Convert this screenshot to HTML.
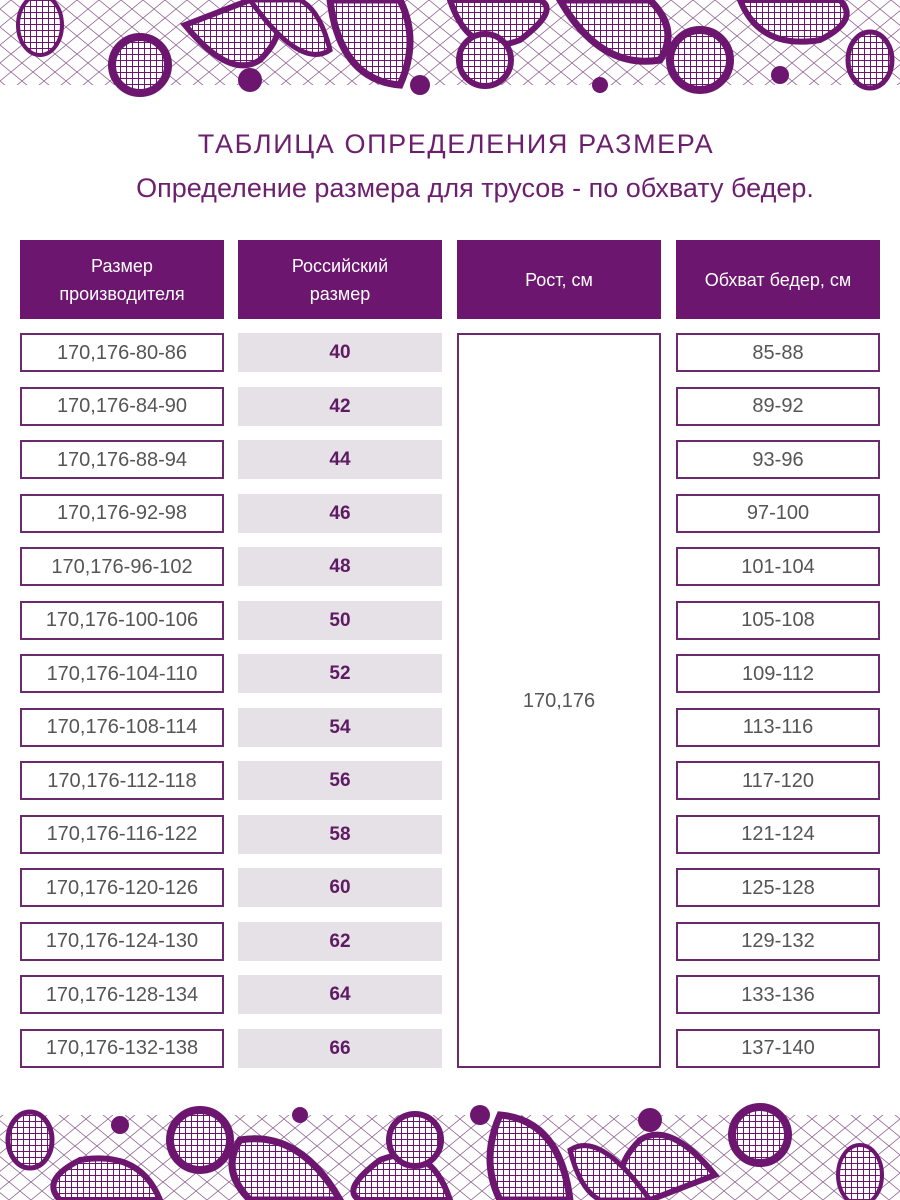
<!DOCTYPE html>
<html><head><meta charset="utf-8"><style>
body{margin:0;background:#fff;font-family:"Liberation Sans",sans-serif;}
#p{position:relative;width:900px;height:1200px;overflow:hidden;background:#fff}
.h{position:absolute;top:240px;height:79px;width:204px;background:#6c1670;color:#fff;font-size:18px;line-height:28px;display:flex;align-items:center;justify-content:center;text-align:center}
.c{position:absolute;height:39px;width:204px;box-sizing:border-box;display:flex;align-items:center;justify-content:center;font-size:20px;color:#555;padding-top:1px}
.b{border:2px solid #6c2a6e;background:#fff}
.g{background:#e6e1e7;color:#5e1a62;font-weight:bold;font-size:19px}
.t{position:absolute;width:900px;text-align:center;color:#6c1f6e}
</style></head><body><div id="p">
<svg width="900" height="1200" style="position:absolute;left:0;top:0">
<defs>
<pattern id="m" width="22" height="18" patternUnits="userSpaceOnUse"><path d="M0 9 L11 0 L22 9 L11 18 Z" fill="none" stroke="#8a5a8e" stroke-width="0.8"/></pattern>
<pattern id="x" width="6" height="6" patternUnits="userSpaceOnUse"><rect width="6" height="6" fill="#fff"/><path d="M0 0H6M0 0V6" stroke="#6c1670" stroke-width="2"/></pattern>
<g id="lace">
<rect x="0" y="0" width="900" height="85" fill="url(#m)"/>
<ellipse cx="40" cy="25" rx="22" ry="30" fill="url(#x)" stroke="#6c1670" stroke-width="4"/>
<circle cx="140" cy="65" r="28" fill="url(#x)" stroke="#6c1670" stroke-width="8"/>
<path d="M185 25 Q230 80 260 60 Q300 20 250 0 Z" fill="url(#x)" stroke="#6c1670" stroke-width="6"/>
<path d="M250 0 Q300 70 330 50 Q320 10 300 0 Z" fill="url(#x)" stroke="#6c1670" stroke-width="5"/>
<circle cx="250" cy="80" r="12" fill="#6c1670"/>
<path d="M330 0 Q340 80 400 85 Q420 40 400 0 Z" fill="url(#x)" stroke="#6c1670" stroke-width="7"/>
<circle cx="420" cy="85" r="10" fill="#6c1670"/>
<path d="M450 0 Q470 60 520 40 Q560 10 540 0 Z" fill="url(#x)" stroke="#6c1670" stroke-width="6"/>
<circle cx="485" cy="60" r="26" fill="url(#x)" stroke="#6c1670" stroke-width="6"/>
<path d="M560 0 Q600 70 660 60 Q680 30 650 0 Z" fill="url(#x)" stroke="#6c1670" stroke-width="7"/>
<circle cx="700" cy="60" r="30" fill="url(#x)" stroke="#6c1670" stroke-width="8"/>
<path d="M740 0 Q760 50 820 40 Q860 20 840 0 Z" fill="url(#x)" stroke="#6c1670" stroke-width="6"/>
<ellipse cx="870" cy="60" rx="22" ry="28" fill="url(#x)" stroke="#6c1670" stroke-width="5"/>
<circle cx="600" cy="85" r="8" fill="#6c1670"/><circle cx="780" cy="75" r="9" fill="#6c1670"/>
</g></defs>
<use href="#lace"/>
<use href="#lace" transform="translate(900,1200) rotate(180)"/>
</svg>
<div class="t" style="left:6px;top:129px;font-size:27px;letter-spacing:1.6px">ТАБЛИЦА ОПРЕДЕЛЕНИЯ РАЗМЕРА</div>
<div class="t" style="left:25px;top:173px;font-size:27px">Определение размера для трусов - по обхвату бедер.</div>
<div class="h" style="left:20px">Размер<br>производителя</div>
<div class="h" style="left:238px">Российский<br>размер</div>
<div class="h" style="left:457px">Рост, см</div>
<div class="h" style="left:676px">Обхват бедер, см</div>
<div class="c b" style="left:457px;top:333px;height:735px">170,176</div>
<div id="rows"></div>
<script>
var a=[["80-86",40,"85-88"],["84-90",42,"89-92"],["88-94",44,"93-96"],["92-98",46,"97-100"],["96-102",48,"101-104"],["100-106",50,"105-108"],["104-110",52,"109-112"],["108-114",54,"113-116"],["112-118",56,"117-120"],["116-122",58,"121-124"],["120-126",60,"125-128"],["124-130",62,"129-132"],["128-134",64,"133-136"],["132-138",66,"137-140"]];
var h="";a.forEach(function(r,i){var y=333+i*53.5;
h+='<div class="c b" style="left:20px;top:'+y+'px">170,176-'+r[0]+'</div>';
h+='<div class="c g" style="left:238px;top:'+y+'px">'+r[1]+'</div>';
h+='<div class="c b" style="left:676px;top:'+y+'px">'+r[2]+'</div>';});
document.getElementById("rows").innerHTML=h;
</script>
</div></body></html>
